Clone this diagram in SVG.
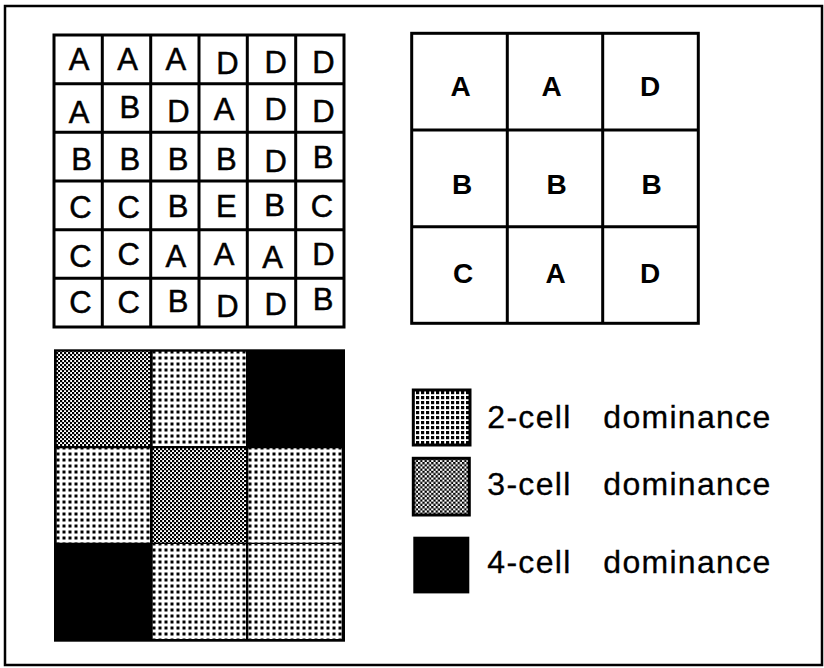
<svg xmlns="http://www.w3.org/2000/svg" width="824" height="668" viewBox="0 0 824 668">
<style>
.ln{stroke:#000;stroke-width:3;fill:none}
.t{font-family:"Liberation Sans",Arial,sans-serif;font-size:31px;text-anchor:middle;fill:#000;stroke:#000;stroke-width:0.5}
.tb{font-family:"Liberation Sans",Arial,sans-serif;font-size:28px;font-weight:bold;text-anchor:middle;fill:#000}
.lg{font-family:"Liberation Sans",Arial,sans-serif;font-size:32px;letter-spacing:1.3px;fill:#000;stroke:#000;stroke-width:0.3}
.two{fill:url(#p2)}
.three{fill:url(#p3)}
</style>
<defs>
<pattern id="p2" patternUnits="userSpaceOnUse" x="1" y="1" width="6" height="6">
<rect width="6" height="6" fill="#fff"/>
<rect x="1.5" y="1.5" width="3" height="3" fill="#000"/>
</pattern>
<pattern id="p3" patternUnits="userSpaceOnUse" width="4" height="4">
<rect width="4" height="4" fill="#fff"/>
<rect width="2.2" height="2.2" fill="#000"/>
<rect x="2" y="2" width="2.2" height="2.2" fill="#000"/>
</pattern>
<pattern id="p2l" patternUnits="userSpaceOnUse" x="0" y="0" width="5" height="5">
<rect width="5" height="5" fill="#fff"/>
<rect x="1" y="1" width="3.2" height="3.2" fill="#000"/>
</pattern>
<pattern id="p3l" patternUnits="userSpaceOnUse" width="4.4" height="4.4">
<rect width="4.4" height="4.4" fill="#fff"/>
<rect width="2.3" height="2.3" fill="#000"/>
<rect x="2.2" y="2.2" width="2.3" height="2.3" fill="#000"/>
</pattern>
</defs>
<rect width="824" height="668" fill="#fff"/>
<rect id="frame" x="5" y="6" width="817" height="659" fill="none" stroke="#000" stroke-width="2.5"/>

<g id="grid6">
<rect class="ln" x="54" y="35" width="290" height="292"/>
<path class="ln" d="M102.3 35V327M150.7 35V327M199 35V327M247.3 35V327M295.7 35V327M54 83.7H344M54 132.3H344M54 181H344M54 229.7H344M54 278.3H344"/>
<g class="t">
<text x="79.2" y="70">A</text><text x="127.5" y="70">A</text><text x="175.8" y="70">A</text><text x="227.5" y="74">D</text><text x="275.8" y="73.3">D</text><text x="323.5" y="73.3">D</text>
<text x="79.2" y="122.7">A</text><text x="129.8" y="118.3">B</text><text x="178.5" y="121.7">D</text><text x="224.2" y="120">A</text><text x="275.8" y="120">D</text><text x="323.5" y="121.7">D</text>
<text x="81.5" y="170">B</text><text x="129.8" y="170">B</text><text x="178" y="170">B</text><text x="226.4" y="170">B</text><text x="275.8" y="171.7">D</text><text x="323" y="168.3">B</text>
<text x="80.5" y="218">C</text><text x="128.8" y="218">C</text><text x="178" y="216.7">B</text><text x="226.4" y="216.7">E</text><text x="274.7" y="216">B</text><text x="322" y="216.7">C</text>
<text x="80.5" y="266.7">C</text><text x="128.8" y="265">C</text><text x="175.8" y="266.7">A</text><text x="224.2" y="265">A</text><text x="272.5" y="268.3">A</text><text x="323.5" y="265">D</text>
<text x="80.5" y="313">C</text><text x="128.8" y="313">C</text><text x="178" y="311.7">B</text><text x="227.5" y="316.7">D</text><text x="275.8" y="315">D</text><text x="323" y="310">B</text>
</g>
</g>

<g id="grid3">
<rect class="ln" x="411.7" y="33.3" width="286.6" height="290"/>
<path class="ln" d="M507.3 33.3V323.3M602.7 33.3V323.3M411.7 130H698.3M411.7 226.7H698.3"/>
<g class="tb">
<text x="460.7" y="96">A</text><text x="551.7" y="96">A</text><text x="650" y="96">D</text>
<text x="462" y="194">B</text><text x="556.7" y="194">B</text><text x="651.7" y="194">B</text>
<text x="463" y="283.3">C</text><text x="555.7" y="283.3">A</text><text x="650" y="283.3">D</text>
</g>
</g>

<g id="dominance-map">
<rect x="54" y="349.3" width="291" height="292.4" fill="#000"/>
<rect class="three" x="56.7" y="351.7" width="93.3" height="94.3"/>
<rect class="two" x="152.7" y="351.7" width="93.3" height="94.3"/>
<rect class="two" x="56.7" y="448.3" width="93.3" height="94.4"/>
<rect class="three" x="152.7" y="448.3" width="93.3" height="94.4"/>
<rect class="two" x="248.3" y="448.3" width="93.4" height="94.4"/>
<rect class="two" x="152.7" y="544" width="93.3" height="95"/>
<rect class="two" x="248.3" y="544" width="93.4" height="95"/>
</g>

<g id="legend-2">
<rect x="413.3" y="390" width="56.7" height="55" fill="url(#p2l)" stroke="#000" stroke-width="3"/>
<text class="lg" y="427.7"><tspan x="487.3">2-cell</tspan> <tspan x="603.3">dominance</tspan></text>
</g>
<g id="legend-3">
<rect x="413.3" y="458.3" width="56" height="56.7" fill="url(#p3l)" stroke="#000" stroke-width="3"/>
<text class="lg" y="494.8"><tspan x="487.3">3-cell</tspan> <tspan x="603.3">dominance</tspan></text>
</g>
<g id="legend-4">
<rect x="413.3" y="536.7" width="56" height="56.7" fill="#000"/>
<text class="lg" y="573.3"><tspan x="487.3">4-cell</tspan> <tspan x="603.3">dominance</tspan></text>
</g>
</svg>
